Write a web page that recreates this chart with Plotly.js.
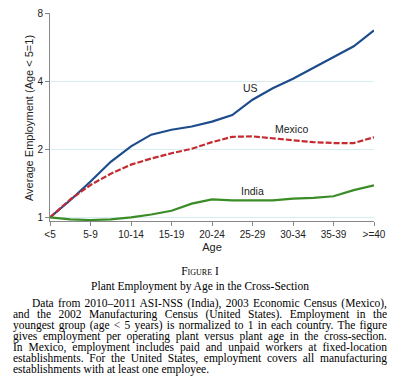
<!DOCTYPE html>
<html>
<head>
<meta charset="utf-8">
<script src="https://cdn.plot.ly/plotly-3.0.1.min.js"></script>
<style>
  html, body { margin: 0; padding: 0; background: #fff; }
  #wrap { position: relative; width: 400px; height: 385px; overflow: hidden; }
  #chart { position: absolute; left: 0; top: 0; width: 400px; height: 260px; }
  .cap { position: absolute; font-family: "Liberation Serif", "DejaVu Serif", serif; font-size: 11.5px; color: #000; white-space: nowrap; line-height: 11px; }
  .just { text-align: justify; text-align-last: justify; white-space: normal; }
</style>
</head>
<body>
<div id="wrap">
  <div id="chart"></div>
  <div class="cap" style="left:0;width:400px;top:266px;text-align:center;font-variant:small-caps;">Figure I</div>
  <div class="cap" style="left:0;width:400px;top:281px;text-align:center;">Plant Employment by Age in the Cross-Section</div>
  <div class="cap just" style="left:32px;width:355px;top:298px;">Data from 2010–2011 ASI-NSS (India), 2003 Economic Census (Mexico),</div>
  <div class="cap just" style="left:13px;width:374px;top:309px;">and the 2002 Manufacturing Census (United States). Employment in the</div>
  <div class="cap just" style="left:13px;width:374px;top:320px;">youngest group (age &lt; 5 years) is normalized to 1 in each country. The figure</div>
  <div class="cap just" style="left:13px;width:374px;top:331px;">gives employment per operating plant versus plant age in the cross-section.</div>
  <div class="cap just" style="left:13px;width:374px;top:342px;">In Mexico, employment includes paid and unpaid workers at fixed-location</div>
  <div class="cap just" style="left:13px;width:374px;top:353px;">establishments. For the United States, employment covers all manufacturing</div>
  <div class="cap" style="left:13px;top:364px;">establishments with at least one employee.</div>
</div>
<script>
// Age group tick labels
const categories = ["<5", "5-9", "10-14", "15-19", "20-24", "25-29", "30-34", "35-39", ">=40"];
const categoryPos = [0, 1, 2, 3, 4, 5, 6, 7, 8];
// Positions along the age axis at which values were read (half-group steps)
const agePos = [0, 0.5, 1, 1.5, 2, 2.5, 3, 3.5, 4, 4.5, 5, 5.5, 6, 6.5, 7, 7.5, 8];
// Average employment relative to age < 5
const usValues = [1, 1.19, 1.44, 1.76, 2.06, 2.32, 2.44, 2.52, 2.65, 2.83, 3.31, 3.72, 4.10, 4.57, 5.12, 5.70, 6.70];
const mexicoValues = [1, 1.20, 1.39, 1.56, 1.71, 1.82, 1.92, 2.01, 2.15, 2.27, 2.28, 2.24, 2.19, 2.15, 2.13, 2.13, 2.26];
const indiaValues = [1, 0.98, 0.973, 0.98, 1.0, 1.03, 1.07, 1.15, 1.20, 1.19, 1.19, 1.19, 1.21, 1.22, 1.24, 1.32, 1.386];
// Series labels placed on the chart
const seriesNames = ["US", "Mexico", "India"];
const labelX = [4.96, 5.97, 4.99];
const labelY = [3.74, 2.47, 1.31];
const yTitle = "Average Employment (Age < 5=1)";

const colors = ["#1d4c8c", "#c42a30", "#3a8c26"];
const dashes = ["solid", "6px,2px", "solid"];
const series = [usValues, mexicoValues, indiaValues];

const traces = series.map((vals, i) => ({
  x: agePos, y: vals, type: "scatter", mode: "lines", name: seriesNames[i],
  line: { color: colors[i], width: 2.2, dash: dashes[i], shape: "linear" },
  hoverinfo: "skip"
}));

const font = { family: "Liberation Sans, Arial, sans-serif", size: 10, color: "#222" };

const annotations = seriesNames.map((n, i) => ({
  x: labelX[i], y: Math.log10(labelY[i]), xref: "x", yref: "y",
  text: n, showarrow: false,
  font: { family: font.family, size: 10.5, color: "#222" }
}));
annotations.push({
  x: 0, xref: "paper", xshift: -13, xanchor: "right",
  y: 0.495, yref: "paper", yanchor: "middle",
  text: yTitle, textangle: -90, showarrow: false,
  font: { family: font.family, size: 11, color: "#222" }
});

const layout = {
  width: 400, height: 260,
  margin: { l: 50, r: 25.5, t: 13, b: 39 },
  paper_bgcolor: "#fff", plot_bgcolor: "#fff",
  showlegend: false,
  font: font,
  xaxis: {
    type: "linear", range: [0, 8],
    tickvals: categoryPos, ticktext: categories,
    ticks: "outside", ticklen: 4, tickcolor: "#888", tickwidth: 1,
    showline: true, linecolor: "#888", linewidth: 1,
    showgrid: false, zeroline: false,
    tickfont: font,
    title: { text: "Age", font: { family: font.family, size: 11, color: "#222" }, standoff: 4 }
  },
  yaxis: {
    type: "log", range: [-0.016, Math.log10(8)],
    tickvals: [1, 2, 4, 8], ticktext: ["1", "2", "4", "8"],
    ticks: "outside", ticklen: 4, tickcolor: "#888", tickwidth: 1,
    showline: true, linecolor: "#888", linewidth: 1,
    showgrid: true, gridcolor: "#d8edf2", gridwidth: 1,
    zeroline: false,
    tickfont: font
  },
  annotations: annotations
};

Plotly.newPlot("chart", traces, layout, { staticPlot: true, displayModeBar: false });
</script>
</body>
</html>
